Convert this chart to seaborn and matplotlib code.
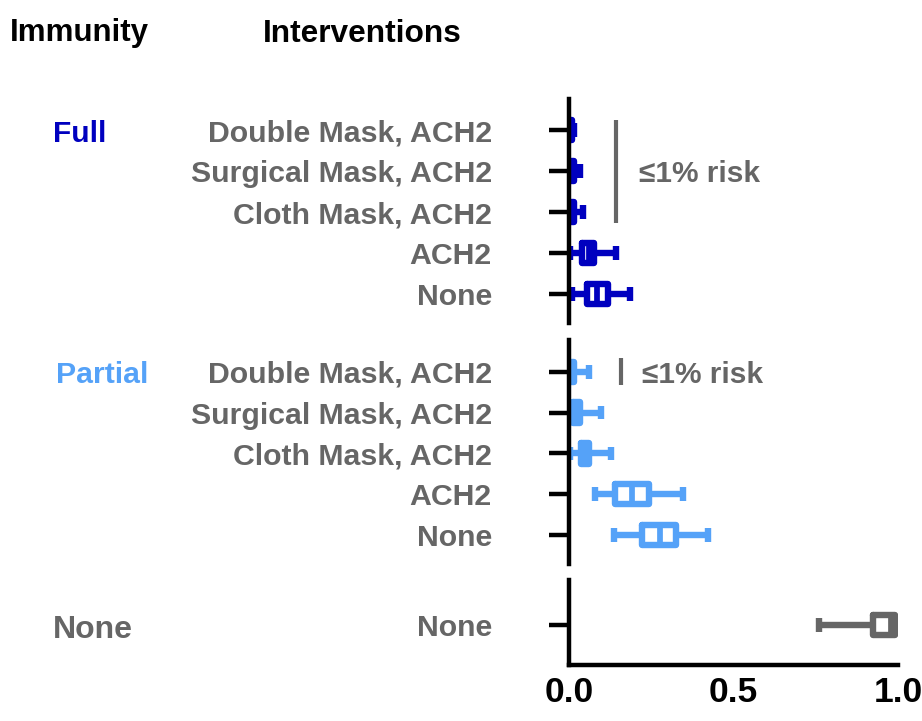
"""
Infection risk by immunity level and intervention (box plots, three stacked panels).
"""
import numpy as np
import pandas as pd
import matplotlib
matplotlib.use('Agg')
import matplotlib.pyplot as plt
import seaborn as sns

sns.set_theme(style="white")
plt.rcParams['font.family'] = ['Liberation Sans', 'DejaVu Sans']
plt.rcParams['font.weight'] = 'bold'

# Data: five-number summaries (min, q1, median, q3, max)
FULL_CATS = ["Double Mask, ACH2", "Surgical Mask, ACH2", "Cloth Mask, ACH2", "ACH2", "None"]
FULL_STATS = [
    [0.000, 0.001, 0.004, 0.010, 0.014],
    [0.000, 0.002, 0.007, 0.014, 0.033],
    [0.000, 0.002, 0.008, 0.014, 0.043],
    [0.004, 0.038, 0.060, 0.076, 0.144],
    [0.010, 0.055, 0.085, 0.118, 0.185],
]
PARTIAL_CATS = ["Double Mask, ACH2", "Surgical Mask, ACH2", "Cloth Mask, ACH2", "ACH2", "None"]
PARTIAL_STATS = [
    [0.000, 0.002, 0.006, 0.016, 0.062],
    [0.000, 0.012, 0.022, 0.034, 0.098],
    [0.003, 0.036, 0.048, 0.060, 0.129],
    [0.079, 0.141, 0.190, 0.242, 0.348],
    [0.136, 0.221, 0.277, 0.325, 0.424],
]
NONE_CATS = ["None"]
NONE_STATS = [
    [0.761, 0.924, 0.979, 0.992, 0.994],
]
X_TICKS = [0.0, 0.5, 1.0]
X_TICKLABELS = ["0.0", "0.5", "1.0"]

BLUE_DARK = "#0000BF"
BLUE_LIGHT = "#55A2F8"
GRAY = "#666666"

W, H = 922, 721
LW = 4.6


def to_long(cats, stats):
    rows = []
    for c, s in zip(cats, stats):
        for v in s:
            rows.append({"Intervention": c, "risk": v})
    return pd.DataFrame(rows)


def px_axes(fig, left, top, right, bottom):
    return fig.add_axes([left / W, 1 - bottom / H, (right - left) / W, (bottom - top) / H])


def draw_panel(ax, cats, stats, color, ylim, show_x=False):
    df = to_long(cats, stats)
    sns.boxplot(
        data=df, x="risk", y="Intervention", order=cats, ax=ax,
        whis=(0, 100), fill=False, color=color, linewidth=LW, width=0.5,
        capwidths=0.33,
        boxprops=dict(solid_joinstyle='round', linewidth=LW),
        whiskerprops=dict(linewidth=LW),
        capprops=dict(linewidth=LW, solid_capstyle='butt'),
        medianprops=dict(linewidth=LW * 0.9),
    )
    ax.set_xlim(0, 1.0)
    ax.set_ylim(*ylim)
    ax.set_xlabel("")
    ax.set_ylabel("")
    for s in ["top", "right"]:
        ax.spines[s].set_visible(False)
    ax.spines["left"].set_color("black")
    ax.spines["left"].set_linewidth(3.2)
    ax.tick_params(axis="y", left=True, length=14.5, width=3.2, color="black",
                   pad=41, labelcolor=GRAY, labelsize=21.8)
    for lab in ax.get_yticklabels():
        lab.set_fontweight("bold")
    if show_x:
        ax.spines["bottom"].set_color("black")
        ax.spines["bottom"].set_linewidth(3.2)
        ax.set_xticks(X_TICKS)
        ax.set_xticklabels(X_TICKLABELS, fontsize=25.5, fontweight="bold", color="black")
        ax.tick_params(axis="x", bottom=True, length=0, pad=8)
    else:
        ax.spines["bottom"].set_visible(False)
        ax.set_xticks([])


fig = plt.figure(figsize=(W / 100, H / 100), dpi=100)

ax1 = px_axes(fig, 569, 99, 898, 323)
draw_panel(ax1, FULL_CATS, FULL_STATS, BLUE_DARK, (4.71, -0.76))
ax2 = px_axes(fig, 569, 340, 898, 564)
draw_panel(ax2, PARTIAL_CATS, PARTIAL_STATS, BLUE_LIGHT, (4.71, -0.78))
ax3 = px_axes(fig, 569, 580, 898, 665)
draw_panel(ax3, NONE_CATS, NONE_STATS, GRAY, (0.98, -1.1), show_x=True)

# "<=1% risk" brackets
ax1.plot([0.142, 0.142], [-0.24, 2.27], color=GRAY, lw=3, solid_capstyle='butt')
ax1.text(0.212, 1, "≤1% risk", color=GRAY, fontsize=21.5, fontweight="bold",
         ha="left", va="center_baseline")
ax2.plot([0.158, 0.158], [-0.34, 0.32], color=GRAY, lw=3, solid_capstyle='butt')
ax2.text(0.221, 0, "≤1% risk", color=GRAY, fontsize=21.5, fontweight="bold",
         ha="left", va="center_baseline")

# Headers and immunity group labels
fig.text(10 / W, 1 - 30 / H, "Immunity", fontsize=22.5, fontweight="bold",
         color="black", ha="left", va="center_baseline")
fig.text(263 / W, 1 - 30 / H, "Interventions", fontsize=22.8, fontweight="bold",
         color="black", ha="left", va="center_baseline")
fig.text(53 / W, 1 - 131 / H, "Full", fontsize=21.5, fontweight="bold",
         color=BLUE_DARK, ha="left", va="center_baseline")
fig.text(56 / W, 1 - 372 / H, "Partial", fontsize=21.8, fontweight="bold",
         color=BLUE_LIGHT, ha="left", va="center_baseline")
fig.text(53 / W, 1 - 626 / H, "None", fontsize=23, fontweight="bold",
         color=GRAY, ha="left", va="center_baseline")

fig.savefig("out.png", dpi=100)
plt.close()
